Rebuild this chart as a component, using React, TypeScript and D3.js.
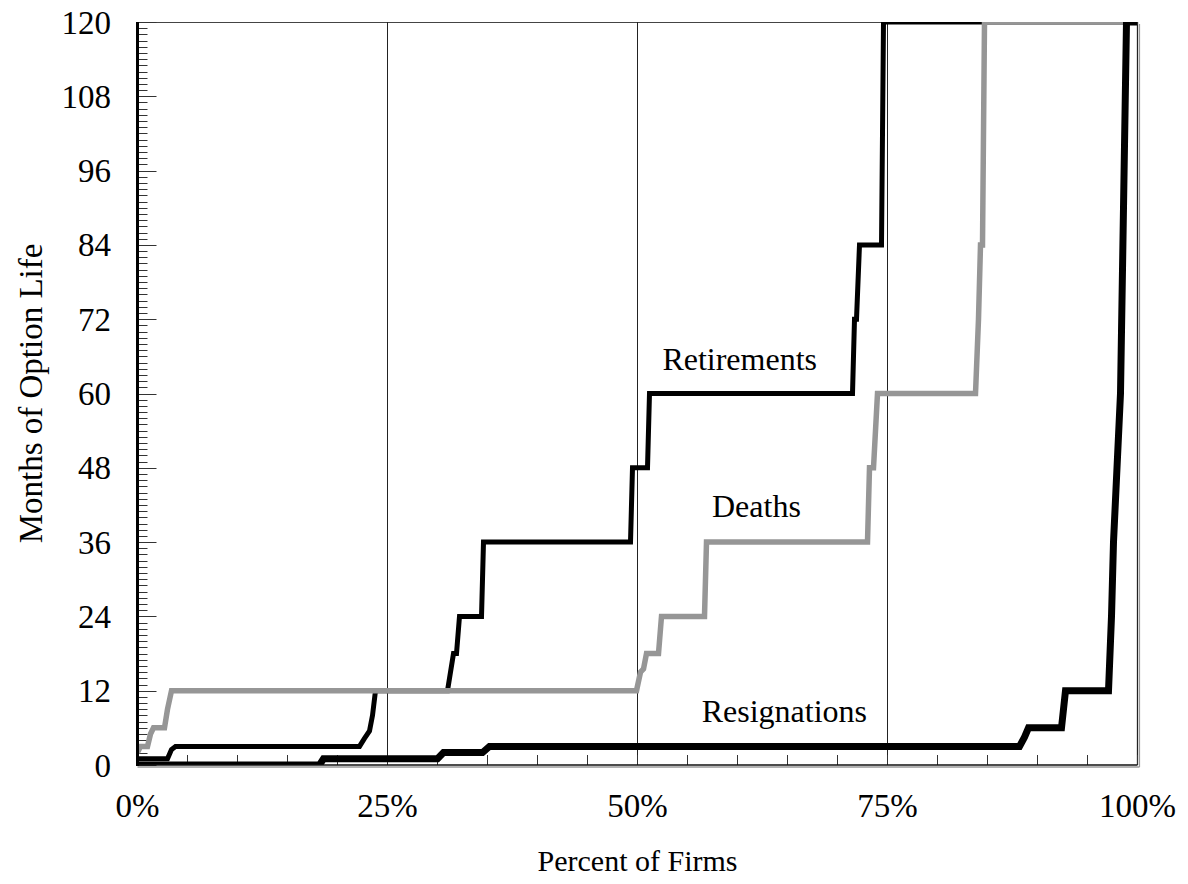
import React from "react";
import * as d3 from "d3";

const yTicks = [0, 12, 24, 36, 48, 60, 72, 84, 96, 108, 120];
const xTickLabels = ["0%", "25%", "50%", "75%", "100%"];
const xTickValues = [0, 25, 50, 75, 100];
const gridValues = [25, 50, 75];

// [percent of firms, months]
const retirements: [number, number][] = [
  [0, 1], [3.0, 1], [3.4, 2.5], [3.8, 3], [22.2, 3], [22.7, 4.3], [23.2, 5.5], [23.5, 8], [23.8, 12],
  [31.0, 12], [31.3, 15], [31.6, 18], [31.9, 18], [32.2, 24], [34.4, 24], [34.6, 36],
  [49.3, 36], [49.5, 48], [51.0, 48], [51.2, 60], [71.5, 60], [71.7, 72], [71.9, 72], [72.2, 84],
  [74.4, 84], [74.6, 120], [100, 120],
];
const deaths: [number, number][] = [
  [0, 2], [0.3, 3], [1.0, 3], [1.3, 5], [1.6, 6], [2.7, 6], [3.0, 9], [3.4, 12],
  [49.9, 12], [50.3, 15], [50.6, 15.5], [50.9, 18], [52.1, 18], [52.4, 24], [56.7, 24], [56.9, 36],
  [73.0, 36], [73.2, 48], [73.6, 48], [74.0, 60], [83.8, 60], [84.1, 72], [84.3, 84], [84.5, 84],
  [84.7, 120], [100, 120],
];
const resignations: [number, number][] = [
  [0, 0], [18.2, 0], [18.6, 1], [30.0, 1], [30.6, 2], [34.5, 2], [35.2, 3],
  [88.2, 3], [88.7, 4.5], [89.1, 6], [92.4, 6], [92.8, 12], [97.1, 12], [97.4, 24], [97.6, 36],
  [98.3, 60], [98.9, 120], [100, 120],
];
// label anchor: [percent, months] of text baseline
const seriesLabels = [
  { text: "Retirements", x: 67.95, y: 63.8, anchor: "end" },
  { text: "Deaths", x: 57.45, y: 40.1, anchor: "start" },
  { text: "Resignations", x: 72.95, y: 6.95, anchor: "end" },
];

const W = 1188, H = 884;
const L = 137.5, R = 1137.5, T = 22, B = 765;
const FONT = "'Liberation Serif', 'Times New Roman', serif";

export default function App() {
  const x = d3.scaleLinear().domain([0, 100]).range([L, R]);
  const y = d3.scaleLinear().domain([0, 120]).range([B, T]);
  const line = d3.line<[number, number]>().x((d) => x(d[0])).y((d) => y(d[1]));
  const minor = d3.range(0, 121, 1);
  const xMinor = d3.range(0, 101, 5);

  return (
    <svg width={W} height={H} style={{ position: "absolute", left: 0, top: 0, background: "#fff" }}>
      <defs>
        <clipPath id="plot">
          <rect x={L} y={T} width={R - L} height={B - T} />
        </clipPath>
      </defs>
      {/* frame */}
      <line x1={L} x2={R} y1={T + 0.5} y2={T + 0.5} stroke="#444" strokeWidth={1.2} />
      <line x1={R} x2={R} y1={T} y2={B} stroke="#222" strokeWidth={1.3} />
      <line x1={R + 2} x2={R + 2} y1={T + 2} y2={B + 2} stroke="#999" strokeWidth={1.2} />
      <line x1={L} x2={R + 2} y1={B + 2} y2={B + 2} stroke="#999" strokeWidth={1.5} />
      {gridValues.map((g) => (
        <line key={g} x1={x(g)} x2={x(g)} y1={T} y2={B} stroke="#222" strokeWidth={1} />
      ))}
      {/* y ticks */}
      {minor.map((m) => (
        <line key={m} x1={L} x2={L + (m % 12 === 0 ? 19 : 10)} y1={Math.round(y(m)) + 0.5} y2={Math.round(y(m)) + 0.5} stroke="#333" strokeWidth={1} />
      ))}
      {/* x ticks */}
      {xMinor.map((v) => (
        <line key={v} x1={x(v)} x2={x(v)} y1={B} y2={B - 10} stroke="#333" strokeWidth={1} />
      ))}
      <g clipPath="url(#plot)">
        <path d={line(retirements) || ""} fill="none" stroke="#000" strokeWidth={5} />
        <path d={line(deaths) || ""} fill="none" stroke="#969696" strokeWidth={5.5} />
        <path d={line(resignations) || ""} fill="none" stroke="#000" strokeWidth={7} />
      </g>
      <line x1={L} x2={R} y1={B} y2={B} stroke="#111" strokeWidth={1.5} />
      <line x1={L} x2={L} y1={T} y2={B + 1} stroke="#000" strokeWidth={3} />
      {/* labels */}
      {yTicks.map((t) => (
        <text key={t} x={111} y={y(t)} dy="0.35em" textAnchor="end" fontFamily={FONT} fontSize={33}>
          {t}
        </text>
      ))}
      {xTickValues.map((v, i) => (
        <text key={v} x={x(v)} y={817} textAnchor="middle" fontFamily={FONT} fontSize={33}>
          {xTickLabels[i]}
        </text>
      ))}
      <text x={x(50)} y={871} textAnchor="middle" fontFamily={FONT} fontSize={30}>
        Percent of Firms
      </text>
      <text
        transform={`translate(42, ${(T + B) / 2}) rotate(-90)`}
        textAnchor="middle"
        fontFamily={FONT}
        fontSize={33}
      >
        Months of Option Life
      </text>
      {seriesLabels.map((s) => (
        <text key={s.text} x={x(s.x)} y={y(s.y)} textAnchor={s.anchor} fontFamily={FONT} fontSize={32}>
          {s.text}
        </text>
      ))}
    </svg>
  );
}
